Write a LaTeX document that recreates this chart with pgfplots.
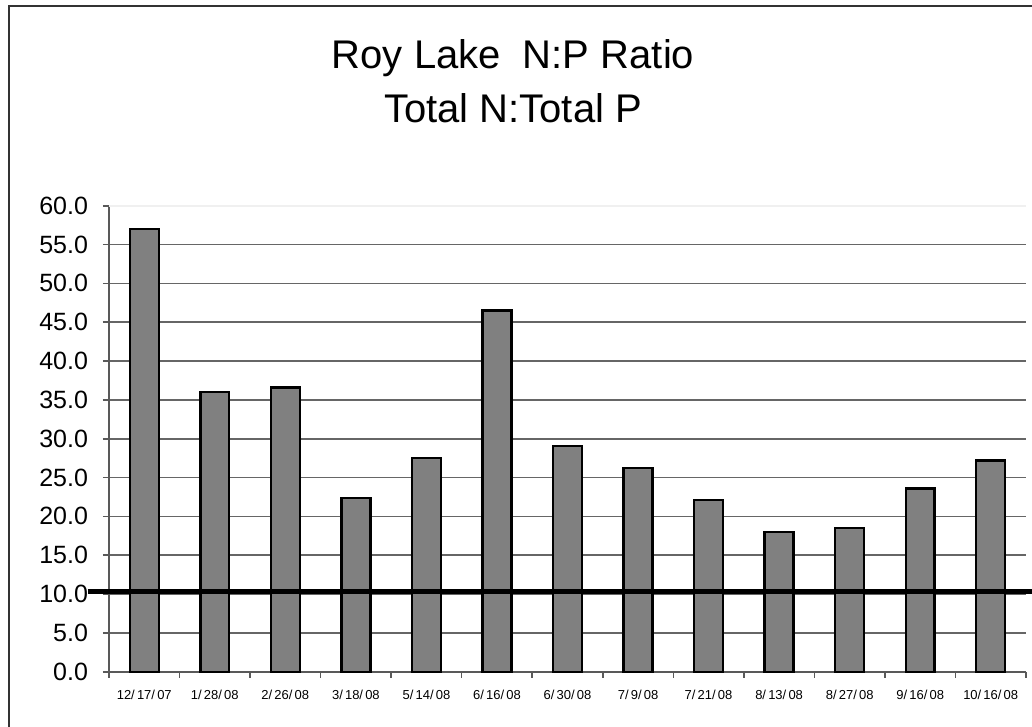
\documentclass[border=0pt]{standalone}
\usepackage{pgfplots}
\pgfplotsset{compat=1.18}
\usepackage{fontspec}
\setmainfont{Liberation Sans}

\begin{document}
\begin{tikzpicture}
% page frame, cropped on the right and bottom like the reference
\path[use as bounding box] (0pt,0pt) rectangle (516pt,-363.5pt);
\draw[line width=0.8pt, black!80] (4.5pt,-363.5pt) -- (4.5pt,-3pt) -- (516pt,-3pt);
\node[font=\fontsize{20}{24}\selectfont] at (256.5pt,-29pt) {Roy Lake\ \ N:P Ratio};
\node[font=\fontsize{20}{24}\selectfont] at (256.5pt,-54pt) {Total N:Total P};
\begin{axis}[
    at={(54.5pt,-335.85pt)}, anchor=south west,
    scale only axis,
    width=458.5pt, height=233pt,
    xmin=-0.5, xmax=12.5,
    ymin=0, ymax=60,
    clip=false,
    axis x line*=bottom,
    axis y line*=left,
    axis line style={black!65, line width=0.8pt},
    tick style={black!65, line width=0.8pt},
    tick align=outside,
    major tick length=3pt,
    % ticks sit between the bars, labels are shifted to the bar centres
    xtick={-0.5,0.5,...,12.5},
    xticklabels={12/\,17/\,07,1/\,28/\,08,2/\,26/\,08,3/\,18/\,08,5/\,14/\,08,6/\,16/\,08,
      6/\,30/\,08,7/\,9/\,08,7/\,21/\,08,8/\,13/\,08,8/\,27/\,08,9/\,16/\,08,10/\,16/\,08,{}},
    xticklabel style={font=\fontsize{6.5}{8}\selectfont, xshift=17.63pt, yshift=-2.5pt},
    ytick={0,5,...,55},
    extra y ticks={60},
    extra y tick style={major grid style={black!6, line width=0.8pt}},
    yticklabel style={font=\fontsize{12.5}{14}\selectfont, xshift=-4pt},
    /pgf/number format/.cd, fixed, fixed zerofill, precision=1, assume math mode=true,
    /pgfplots/.cd,
    ymajorgrids=true,
    major grid style={black!60, line width=0.8pt},
]
\addplot[ybar, bar width=0.41, bar shift=0pt, fill=black!50, draw=black, line width=1.2pt]
  coordinates {(0,57.0) (1,36.0) (2,36.6) (3,22.4) (4,27.5) (5,46.5) (6,29.1)
               (7,26.2) (8,22.1) (9,18.0) (10,18.5) (11,23.6) (12,27.2)};
\addplot[black, line width=2.5pt] coordinates {(-0.8,10.3) (12.6,10.3)};
\end{axis}
\end{tikzpicture}
\end{document}
